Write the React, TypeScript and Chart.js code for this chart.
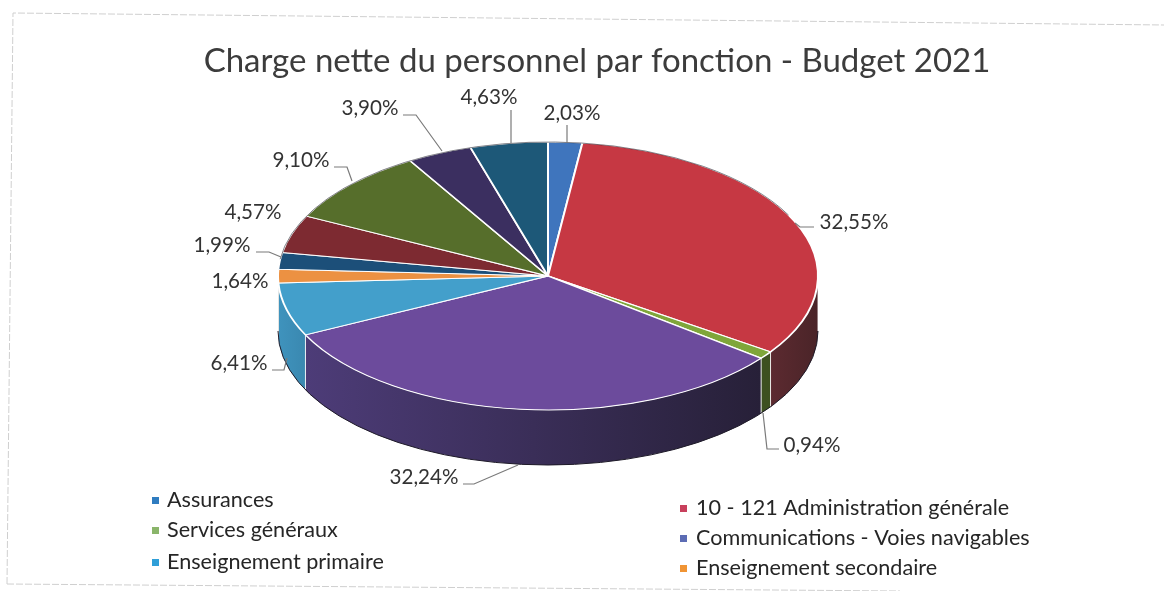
import React, { useEffect, useRef } from "react";
import { Chart, registerables } from "chart.js";

Chart.register(...registerables);

const TITLE = "Charge nette du personnel par fonction - Budget 2021";
const categories = [
  "Assurances",
  "10 - 121 Administration générale",
  "Services généraux",
  "Communications - Voies navigables",
  "Enseignement primaire",
  "Enseignement secondaire",
  "Série 7",
  "Série 8",
  "Série 9",
  "Série 10",
  "Série 11",
];
const values = [2.03, 32.55, 0.94, 32.24, 6.41, 1.64, 1.99, 4.57, 9.1, 3.9, 4.63];
const valueLabels = ["2,03%", "32,55%", "0,94%", "32,24%", "6,41%", "1,64%", "1,99%", "4,57%", "9,10%", "3,90%", "4,63%"];
const topColors = ["#3f75bd", "#c63843", "#7fa63a", "#6c4b9c", "#439fcb", "#ec9142", "#1c4f79", "#7d2a31", "#566e2b", "#3b2f60", "#1d5878"];
const wallLeft = ["#2a4d80", "#5c2a30", "#3d5020", "#4d3c78", "#3f93bd", "#b06a2c", "#143550", "#501c20", "#3a4a1c", "#282040", "#143a50"];
const wallRight = ["#2a4d80", "#4a2428", "#3d5020", "#272038", "#3a88b0", "#b06a2c", "#143550", "#501c20", "#3a4a1c", "#282040", "#143a50"];
const legendColors = ["#2f7cc0", "#c8405c", "#8ab56a", "#5c6cb4", "#2f9fd8", "#f09434"];

// Callouts: text centre (x, y) and optional leader polyline
const callouts: { x: number; y: number; line?: number[][] }[] = [
  { x: 572, y: 113, line: [[567, 125], [567, 143]] },
  { x: 854, y: 222, line: [[795, 223], [800, 227], [814, 227]] },
  { x: 812, y: 445, line: [[763, 413], [767, 449], [779, 449]] },
  { x: 424, y: 477, line: [[518, 465], [474, 484], [463, 484]] },
  { x: 239, y: 363, line: [[287, 358], [284, 370], [272, 370]] },
  { x: 240, y: 281 },
  { x: 222, y: 245, line: [[281, 257], [269, 252], [256, 252]] },
  { x: 253, y: 212 },
  { x: 301, y: 160, line: [[352, 181], [347, 167], [334, 167]] },
  { x: 370, y: 108, line: [[442, 151], [416, 115], [403, 115]] },
  { x: 489, y: 97, line: [[511, 143], [511, 110]] },
];

// Legend entries: category index, marker x, text x, row y
const legendItems = [
  { i: 0, mx: 152, tx: 167, y: 500 },
  { i: 2, mx: 152, tx: 167, y: 530 },
  { i: 4, mx: 152, tx: 167, y: 562 },
  { i: 1, mx: 680, tx: 696, y: 508 },
  { i: 3, mx: 680, tx: 696, y: 538 },
  { i: 5, mx: 680, tx: 696, y: 568 },
];

const FONT = "Lato, Carlito, sans-serif";
const CX = 548;
const CY = 276;
const RX = 270;
const RY = 134;
const DEPTH = 55;

const pie3d = {
  id: "pie3d",
  beforeDatasetDraw(chart: any) {
    const ctx = chart.ctx;
    const arcs = chart.getDatasetMeta(0).data;
    // side wall: only the front half of the ellipse shows
    arcs.forEach((arc: any, i: number) => {
      let a1 = arc.startAngle;
      let a2 = arc.endAngle;
      if (a2 <= 0 || a1 >= Math.PI) return;
      a1 = Math.max(a1, 0);
      a2 = Math.min(a2, Math.PI);
      const x1 = CX + RX * Math.cos(a1);
      const x2 = CX + RX * Math.cos(a2);
      const g = ctx.createLinearGradient(x2, 0, x1, 0);
      g.addColorStop(0, wallLeft[i]);
      g.addColorStop(1, wallRight[i]);
      ctx.save();
      ctx.beginPath();
      ctx.ellipse(CX, CY, RX, RY, 0, a1, a2);
      ctx.ellipse(CX, CY + DEPTH, RX, RY, 0, a2, a1, true);
      ctx.closePath();
      ctx.fillStyle = g;
      ctx.fill();
      ctx.strokeStyle = "rgba(255,255,255,0.85)";
      ctx.lineWidth = 1;
      ctx.beginPath();
      ctx.moveTo(x1, CY + RY * Math.sin(a1));
      ctx.lineTo(x1, CY + RY * Math.sin(a1) + DEPTH);
      ctx.stroke();
      ctx.restore();
    });
    // dark lower rim
    ctx.save();
    ctx.beginPath();
    ctx.ellipse(CX, CY + DEPTH, RX, RY, 0, 0, Math.PI);
    ctx.strokeStyle = "#1e1a28";
    ctx.lineWidth = 1;
    ctx.stroke();
    ctx.restore();
    // flatten the library's arcs into the ellipse
    const a0 = arcs[0];
    ctx.save();
    ctx.translate(CX, CY);
    ctx.scale(1, RY / RX);
    ctx.translate(-a0.x, -a0.y);
  },
  afterDatasetDraw(chart: any) {
    const ctx = chart.ctx;
    ctx.restore();
    // dark rim along the back half of the top face
    ctx.save();
    ctx.beginPath();
    ctx.ellipse(CX, CY, RX, RY, 0, Math.PI * 1.04, Math.PI * 1.85);
    ctx.strokeStyle = "rgba(30,30,40,0.55)";
    ctx.lineWidth = 1;
    ctx.stroke();
    ctx.restore();
  },
  afterDraw(chart: any) {
    const ctx = chart.ctx;
    ctx.save();
    // scanned page frame
    ctx.strokeStyle = "#cfcfcf";
    ctx.lineWidth = 1;
    ctx.setLineDash([7, 2]);
    ctx.beginPath();
    ctx.moveTo(7, 584);
    ctx.lineTo(13, 13);
    ctx.lineTo(1164, 25);
    ctx.moveTo(7, 584);
    ctx.lineTo(900, 591);
    ctx.stroke();
    ctx.setLineDash([]);

    // value callouts
    ctx.strokeStyle = "#7a7a7a";
    ctx.lineWidth = 1.2;
    callouts.forEach((c, i) => {
      if (c.line) {
        ctx.beginPath();
        c.line.forEach(([x, y], k) => (k ? ctx.lineTo(x, y) : ctx.moveTo(x, y)));
        ctx.stroke();
      }
      ctx.fillStyle = "#333333";
      ctx.font = `20.6px ${FONT}`;
      ctx.textAlign = "center";
      ctx.textBaseline = "middle";
      ctx.fillText(valueLabels[i], c.x, c.y);
    });

    // legend
    legendItems.forEach((l, n) => {
      ctx.fillStyle = legendColors[l.i];
      ctx.fillRect(l.mx, l.y - 3, 7, 7);
      ctx.fillStyle = "#262626";
      ctx.font = `21.6px ${FONT}`;
      ctx.textAlign = "left";
      ctx.textBaseline = "middle";
      ctx.fillText(categories[l.i], l.tx, l.y);
    });
    ctx.restore();
  },
};

export default function App() {
  const ref = useRef<HTMLCanvasElement>(null);
  useEffect(() => {
    document.body.style.margin = "0";
    document.body.style.background = "#ffffff";
    const chart = new Chart(ref.current!, {
      type: "pie",
      data: {
        labels: categories,
        datasets: [
          {
            data: values,
            backgroundColor: topColors,
            borderColor: "#ffffff",
            borderWidth: 2,
            radius: RX,
            clip: false,
          } as any,
        ],
      },
      options: {
        responsive: false,
        animation: false,
        layout: { padding: { left: 30, right: 0, top: 0, bottom: 0 } },
        plugins: {
          legend: { display: false },
          tooltip: { enabled: false },
          title: {
            display: true,
            text: TITLE,
            color: "#3c3c3c",
            font: { family: FONT, size: 33, weight: "normal" },
            padding: { top: 42, bottom: 0 },
          },
        },
      },
      plugins: [pie3d],
    });
    return () => chart.destroy();
  }, []);
  return <canvas ref={ref} width={1164} height={591} style={{ display: "block" }} />;
}
